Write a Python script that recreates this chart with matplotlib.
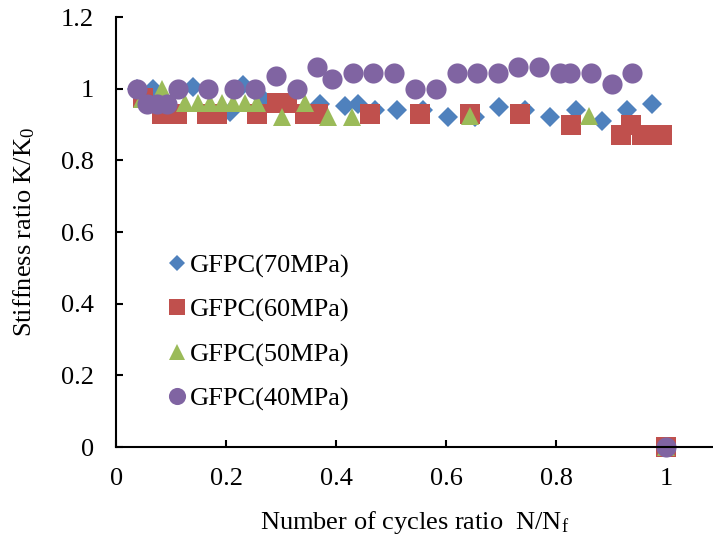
import matplotlib.pyplot as plt
import numpy as np

plt.rcParams['font.family'] = ['Liberation Serif', 'DejaVu Serif']
plt.rcParams['mathtext.default'] = 'regular'

# GFPC(70MPa)
x70 = [0.038, 0.067, 0.140, 0.207, 0.231, 0.267, 0.371, 0.416, 0.440, 0.471, 0.511,
       0.558, 0.604, 0.653, 0.696, 0.744, 0.789, 0.836, 0.884, 0.929, 0.975, 1.0]
y70 = [1.0, 1.0, 1.005, 0.935, 1.01, 0.97, 0.958, 0.953, 0.958, 0.94, 0.94,
       0.94, 0.92, 0.92, 0.95, 0.94, 0.92, 0.94, 0.91, 0.94, 0.958, 0.0]

# GFPC(60MPa)
x60 = [0.049, 0.084, 0.111, 0.165, 0.184, 0.256, 0.293, 0.311, 0.344, 0.367, 0.462,
       0.553, 0.644, 0.735, 0.827, 0.918, 0.936, 0.956, 0.975, 0.993, 1.0]
y60 = [0.975, 0.93, 0.93, 0.93, 0.93, 0.93, 0.96, 0.96, 0.93, 0.93, 0.93,
       0.93, 0.93, 0.93, 0.90, 0.87, 0.90, 0.87, 0.87, 0.87, 0.0]

# GFPC(50MPa)
x50 = [0.047, 0.084, 0.125, 0.149, 0.171, 0.193, 0.213, 0.235, 0.256, 0.302, 0.344,
       0.385, 0.429, 0.644, 0.860, 1.0]
y50 = [0.97, 1.0, 0.96, 0.96, 0.96, 0.96, 0.96, 0.96, 0.96, 0.92, 0.96,
       0.92, 0.92, 0.925, 0.925, 0.0]

# GFPC(40MPa)
x40 = [0.038, 0.056, 0.075, 0.093, 0.113, 0.167, 0.215, 0.253, 0.291, 0.329, 0.365,
       0.393, 0.431, 0.467, 0.505, 0.544, 0.582, 0.620, 0.656, 0.695, 0.731, 0.769,
       0.807, 0.825, 0.864, 0.902, 0.938, 1.0]
y40 = [1.0, 0.958, 0.958, 0.958, 1.0, 1.0, 1.0, 1.0, 1.036, 1.0, 1.061,
       1.028, 1.045, 1.045, 1.045, 1.0, 1.0, 1.045, 1.045, 1.045, 1.061, 1.061,
       1.045, 1.045, 1.045, 1.014, 1.045, 0.0]

fig = plt.figure(figsize=(7.13, 5.40), dpi=100)
ax = fig.add_axes([0.163, 0.172, 0.836, 0.7965])

ax.plot(x70, y70, 'D', color='#4F81BD', ms=10, mew=0, label='GFPC(70MPa)', clip_on=False)
ax.plot(x60, y60, 's', color='#C0504D', ms=14, mew=0, label='GFPC(60MPa)', clip_on=False)
ax.plot(x50, y50, '^', color='#9BBB59', ms=13, mew=0, label='GFPC(50MPa)', clip_on=False)
ax.plot(x40, y40, 'o', color='#8064A2', ms=14.5, mew=0, label='GFPC(40MPa)', clip_on=False)

ax.set_xlim(0, 1.084)
ax.set_ylim(0, 1.2)
ax.set_xticks([0, 0.2, 0.4, 0.6, 0.8, 1.0])
ax.set_xticklabels(['0', '0.2', '0.4', '0.6', '0.8', '1'])
ax.set_yticks([0, 0.2, 0.4, 0.6, 0.8, 1.0, 1.2])
ax.set_yticklabels(['0', '0.2', '0.4', '0.6', '0.8', '1', '1.2'])

for s in ['top', 'right']:
    ax.spines[s].set_visible(False)
for s in ['left', 'bottom']:
    ax.spines[s].set_linewidth(1.5)
ax.tick_params(direction='in', length=5, width=1.5, labelsize=19)
ax.tick_params(axis='x', pad=15)
ax.tick_params(axis='y', pad=16)

ax.set_xlabel('Number of cycles ratio  N/N$_f$', fontsize=19, labelpad=14)
ax.set_ylabel('Stiffness ratio K/K$_0$', fontsize=19, labelpad=17)

ax.legend(loc='upper left', bbox_to_anchor=(0.04, 0.505), frameon=False, fontsize=19,
          handletextpad=0.0, labelspacing=0.78, handlelength=1.0, markerscale=0.85)

fig.savefig('out.png', dpi=100)
